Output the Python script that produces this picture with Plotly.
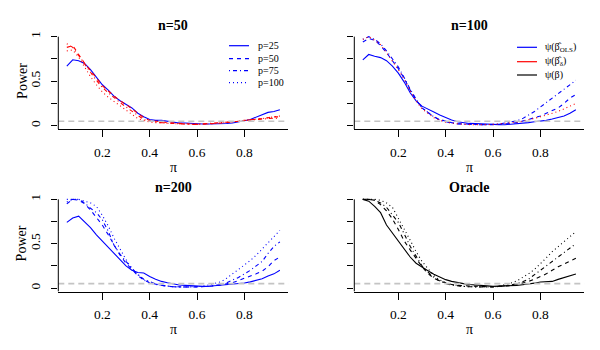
import plotly.graph_objects as go

# pi grid
pi_vals = [0.05, 0.075, 0.1, 0.125, 0.15, 0.175, 0.2, 0.225, 0.25, 0.275, 0.3, 0.325,
           0.35, 0.375, 0.4, 0.425, 0.45, 0.475, 0.5, 0.525, 0.55, 0.575, 0.6, 0.625,
           0.65, 0.675, 0.7, 0.725, 0.75, 0.775, 0.8, 0.825, 0.85, 0.875, 0.9, 0.925, 0.95]

p_labels = ["p=25", "p=50", "p=75", "p=100"]

# n=50 (p=25 OLS, others beta_delta)
n50_p25 = [0.67, 0.74, 0.73, 0.70, 0.63, 0.55, 0.46, 0.40, 0.33, 0.28, 0.24, 0.20, 0.14, 0.10, 0.07, 0.06, 0.06, 0.05, 0.035,
           0.03, 0.03, 0.025, 0.02, 0.02, 0.02, 0.02, 0.02, 0.025, 0.03, 0.04, 0.056, 0.07, 0.094, 0.12, 0.15, 0.16, 0.18]
n50_p50 = [0.88, 0.90, 0.80, 0.70, 0.62, 0.53, 0.45, 0.39, 0.33, 0.28, 0.24, 0.19, 0.13, 0.09, 0.06, 0.05, 0.04, 0.035, 0.03,
           0.025, 0.02, 0.02, 0.015, 0.02, 0.02, 0.025, 0.03, 0.035, 0.04, 0.05, 0.06, 0.065, 0.07, 0.08, 0.09, 0.1, 0.1]
n50_p75 = [0.92, 0.88, 0.79, 0.69, 0.60, 0.51, 0.43, 0.37, 0.31, 0.26, 0.21, 0.16, 0.11, 0.07, 0.05, 0.04, 0.035, 0.03, 0.025,
           0.02, 0.02, 0.015, 0.015, 0.02, 0.02, 0.025, 0.03, 0.035, 0.04, 0.05, 0.06, 0.065, 0.07, 0.075, 0.08, 0.085, 0.08]
n50_p100 = [0.84, 0.85, 0.77, 0.66, 0.55, 0.46, 0.38, 0.32, 0.27, 0.22, 0.17, 0.12, 0.08, 0.06, 0.04, 0.035, 0.03, 0.03, 0.025,
            0.02, 0.02, 0.02, 0.015, 0.02, 0.02, 0.025, 0.03, 0.035, 0.04, 0.05, 0.06, 0.07, 0.075, 0.08, 0.09, 0.1, 0.11]

# n=100 (p=100 beta_delta)
n100_p25 = [0.74, 0.80, 0.78, 0.765, 0.73, 0.67, 0.59, 0.49, 0.37, 0.28, 0.22, 0.19, 0.155, 0.12, 0.09, 0.065, 0.045, 0.035, 0.026,
            0.025, 0.02, 0.018, 0.015, 0.012, 0.011, 0.015, 0.02, 0.026, 0.035, 0.045, 0.052, 0.06, 0.075, 0.09, 0.11, 0.14, 0.18]
n100_p50 = [0.94, 0.98, 0.96, 0.90, 0.82, 0.73, 0.64, 0.53, 0.40, 0.29, 0.20, 0.15, 0.10, 0.07, 0.05, 0.035, 0.022, 0.019, 0.015,
            0.013, 0.011, 0.011, 0.012, 0.015, 0.019, 0.025, 0.035, 0.05, 0.07, 0.09, 0.11, 0.14, 0.17, 0.2, 0.25, 0.31, 0.35]
n100_p75 = [0.97, 1.0, 0.97, 0.92, 0.84, 0.75, 0.66, 0.54, 0.41, 0.30, 0.20, 0.15, 0.10, 0.065, 0.045, 0.03, 0.02, 0.016, 0.013,
            0.011, 0.011, 0.012, 0.015, 0.02, 0.03, 0.04, 0.055, 0.08, 0.12, 0.16, 0.21, 0.26, 0.31, 0.37, 0.42, 0.47, 0.51]
n100_p100 = [0.97, 1.0, 0.96, 0.91, 0.82, 0.73, 0.63, 0.52, 0.39, 0.28, 0.19, 0.14, 0.09, 0.06, 0.04, 0.03, 0.02, 0.016, 0.013,
             0.011, 0.011, 0.012, 0.015, 0.02, 0.025, 0.03, 0.04, 0.05, 0.065, 0.08, 0.1, 0.12, 0.14, 0.16, 0.19, 0.22, 0.25]

# n=200
n200_p25 = [0.74, 0.79, 0.81, 0.75, 0.68, 0.60, 0.53, 0.46, 0.39, 0.31, 0.25, 0.20, 0.175, 0.17, 0.13, 0.10, 0.075, 0.06, 0.045,
            0.035, 0.03, 0.025, 0.02, 0.019, 0.02, 0.025, 0.034, 0.04, 0.045, 0.05, 0.056, 0.07, 0.086, 0.105, 0.135, 0.16, 0.2]
n200_p50 = [0.95, 1.0, 0.99, 0.95, 0.88, 0.80, 0.71, 0.60, 0.48, 0.37, 0.28, 0.21, 0.14, 0.09, 0.06, 0.045, 0.03, 0.02, 0.015,
            0.012, 0.011, 0.011, 0.012, 0.015, 0.02, 0.025, 0.035, 0.045, 0.06, 0.085, 0.11, 0.13, 0.16, 0.19, 0.24, 0.31, 0.35]
n200_p75 = [0.97, 1.0, 1.0, 0.96, 0.90, 0.85, 0.77, 0.64, 0.48, 0.38, 0.30, 0.22, 0.15, 0.10, 0.07, 0.045, 0.03, 0.02, 0.015,
            0.012, 0.011, 0.011, 0.012, 0.015, 0.02, 0.028, 0.04, 0.06, 0.09, 0.12, 0.16, 0.2, 0.25, 0.3, 0.39, 0.47, 0.52]
n200_p100 = [1.0, 1.0, 1.0, 0.98, 0.96, 0.92, 0.82, 0.70, 0.56, 0.44, 0.32, 0.22, 0.15, 0.09, 0.06, 0.04, 0.03, 0.02, 0.015,
             0.012, 0.011, 0.011, 0.015, 0.02, 0.035, 0.05, 0.07, 0.11, 0.16, 0.2, 0.255, 0.31, 0.37, 0.44, 0.51, 0.58, 0.65]

# Oracle
orc_p25 = [1.0, 0.98, 0.92, 0.85, 0.71, 0.62, 0.53, 0.43, 0.35, 0.28, 0.235, 0.195, 0.155, 0.125, 0.095, 0.075, 0.06, 0.05, 0.04,
           0.032, 0.028, 0.024, 0.019, 0.02, 0.022, 0.026, 0.03, 0.038, 0.045, 0.055, 0.068, 0.068, 0.075, 0.098, 0.12, 0.14, 0.158]
orc_p50 = [1.0, 1.0, 0.99, 0.94, 0.87, 0.78, 0.66, 0.53, 0.43, 0.33, 0.24, 0.165, 0.11, 0.08, 0.056, 0.04, 0.03, 0.026, 0.02,
           0.018, 0.016, 0.015, 0.015, 0.018, 0.022, 0.028, 0.04, 0.055, 0.075, 0.1, 0.13, 0.16, 0.2, 0.24, 0.27, 0.3, 0.335]
orc_p75 = [1.0, 1.0, 0.99, 0.96, 0.91, 0.83, 0.74, 0.61, 0.47, 0.36, 0.25, 0.18, 0.12, 0.08, 0.05, 0.035, 0.025, 0.018, 0.014,
           0.012, 0.011, 0.011, 0.013, 0.018, 0.025, 0.034, 0.05, 0.07, 0.1, 0.15, 0.2, 0.25, 0.3, 0.35, 0.4, 0.45, 0.5]
orc_p100 = [1.0, 1.0, 1.0, 0.99, 0.96, 0.91, 0.79, 0.67, 0.54, 0.41, 0.30, 0.22, 0.14, 0.09, 0.06, 0.04, 0.028, 0.02, 0.015,
            0.012, 0.011, 0.011, 0.013, 0.02, 0.04, 0.055, 0.08, 0.12, 0.16, 0.21, 0.27, 0.34, 0.41, 0.47, 0.53, 0.58, 0.635]

titles = ["n=50", "n=100", "n=200", "Oracle"]
panels = [
    [n50_p25, n50_p50, n50_p75, n50_p100],
    [n100_p25, n100_p50, n100_p75, n100_p100],
    [n200_p25, n200_p50, n200_p75, n200_p100],
    [orc_p25, orc_p50, orc_p75, orc_p100],
]
BLUE, RED, BLACK = "#0000ff", "#ff0000", "#000000"
panel_colors = [
    [BLUE, RED, RED, RED],
    [BLUE, BLUE, BLUE, RED],
    [BLUE, BLUE, BLUE, BLUE],
    [BLACK, BLACK, BLACK, BLACK],
]
dashes = ["solid", "4px,4px", "1px,3px,4px,3px", "1px,3px"]

FONT = "Liberation Serif, Times New Roman, DejaVu Serif, serif"
W, H = 600, 350

# plot regions in pixels (left, right, top, bottom)
regions = [(58.3, 288.4, 33.1, 129.3), (354.3, 584.4, 33.1, 129.3),
           (58.3, 288.4, 195.8, 291.6), (354.3, 584.4, 195.8, 291.6)]


def label(text, px, py, size, xanchor="center", angle=0):
    fig.add_annotation(text=text, x=px / W, y=1 - py / H, xref="paper", yref="paper",
                       xanchor=xanchor, yanchor="middle", textangle=angle, showarrow=False,
                       font=dict(family=FONT, size=size, color="black"))


fig = go.Figure()

for i, (curves, cols) in enumerate(zip(panels, panel_colors)):
    k = "" if i == 0 else str(i + 1)
    for y, c, d, lab in zip(curves, cols, dashes, p_labels):
        fig.add_trace(go.Scatter(x=pi_vals, y=y, mode="lines", name=lab, showlegend=False,
                                 line=dict(color=c, width=1.1, dash=d),
                                 xaxis="x" + k, yaxis="y" + k))
    # nominal level
    fig.add_trace(go.Scatter(x=[0.014, 0.986], y=[0.05, 0.05], mode="lines", showlegend=False,
                             line=dict(color="#c4c4c4", width=1.6, dash="6px,4px"),
                             xaxis="x" + k, yaxis="y" + k))

    l, r, t, b = regions[i]
    left = i in (0, 2)
    fig.layout["xaxis" + k] = dict(
        domain=[l / W, r / W], range=[0.014, 0.986], anchor="y" + k, automargin=False,
        showgrid=False, zeroline=False, showline=True, linecolor="black", linewidth=1,
        ticks="outside", ticklen=7, tickcolor="black", tickvals=[0.2, 0.4, 0.6, 0.8],
        ticktext=["0.2", "0.4", "0.6", "0.8"], ticklabelstandoff=3,
        tickfont=dict(family=FONT, size=13.5, color="black"))
    fig.layout["yaxis" + k] = dict(
        domain=[1 - b / H, 1 - t / H], range=[-0.04, 1.04], anchor="x" + k, automargin=False,
        showgrid=False, zeroline=False, showline=False,
        ticks="outside", ticklen=6, tickcolor="black",
        tickvals=[0, 0.5, 1], ticktext=["0", "0.5", "1"],
        minor=dict(tickvals=[0.25, 0.75], ticks="outside", ticklen=6, tickcolor="black"),
        showticklabels=left, tickangle=-90, ticklabelstandoff=6,
        tickfont=dict(family=FONT, size=13.5, color="black"))
    fig.add_shape(type="line", xref="x" + k + " domain", yref="y" + k,
                  x0=0, x1=0, y0=-0.04, y1=1, line=dict(color="black", width=1))

    cx = (l + r) / 2
    label("<b>" + titles[i] + "</b>", cx, t - 8, 14)
    label("π", cx, b + 38, 14)
    if left:
        label("Power", 21.7, (t + b) / 2, 14, angle=-90)

# legend in n=50 panel
leg1_y = [45.7, 58.7, 70.7, 82.7]
for lab, d, yy in zip(p_labels, dashes, leg1_y):
    fig.add_shape(type="line", xref="paper", yref="paper", x0=229 / W, x1=249 / W,
                  y0=1 - yy / H, y1=1 - yy / H, line=dict(color=BLUE, width=1.2, dash=d))
    label(lab, 256, yy, 10, xanchor="left")

# legend in n=100 panel
est_labels = ["ψ(β\u0302<sub>OLS</sub>)", "ψ(β\u0302<sub>δ</sub>)", "ψ(β)"]
est_colors = [BLUE, RED, BLACK]
leg2_y = [47.3, 61.7, 75]
for lab, c, yy in zip(est_labels, est_colors, leg2_y):
    fig.add_shape(type="line", xref="paper", yref="paper", x0=517 / W, x1=537 / W,
                  y0=1 - yy / H, y1=1 - yy / H, line=dict(color=c, width=1.2))
    label(lab, 543, yy, 10, xanchor="left")

fig.update_layout(width=W, height=H, autosize=False, margin=dict(l=0, r=0, t=0, b=0, pad=0),
                  font=dict(family=FONT, color="black"),
                  plot_bgcolor="white", paper_bgcolor="white", showlegend=False)

fig.write_html("out.html", config={"displayModeBar": False, "responsive": False},
               post_script="document.body.style.margin='0';document.body.style.overflow='hidden';")
